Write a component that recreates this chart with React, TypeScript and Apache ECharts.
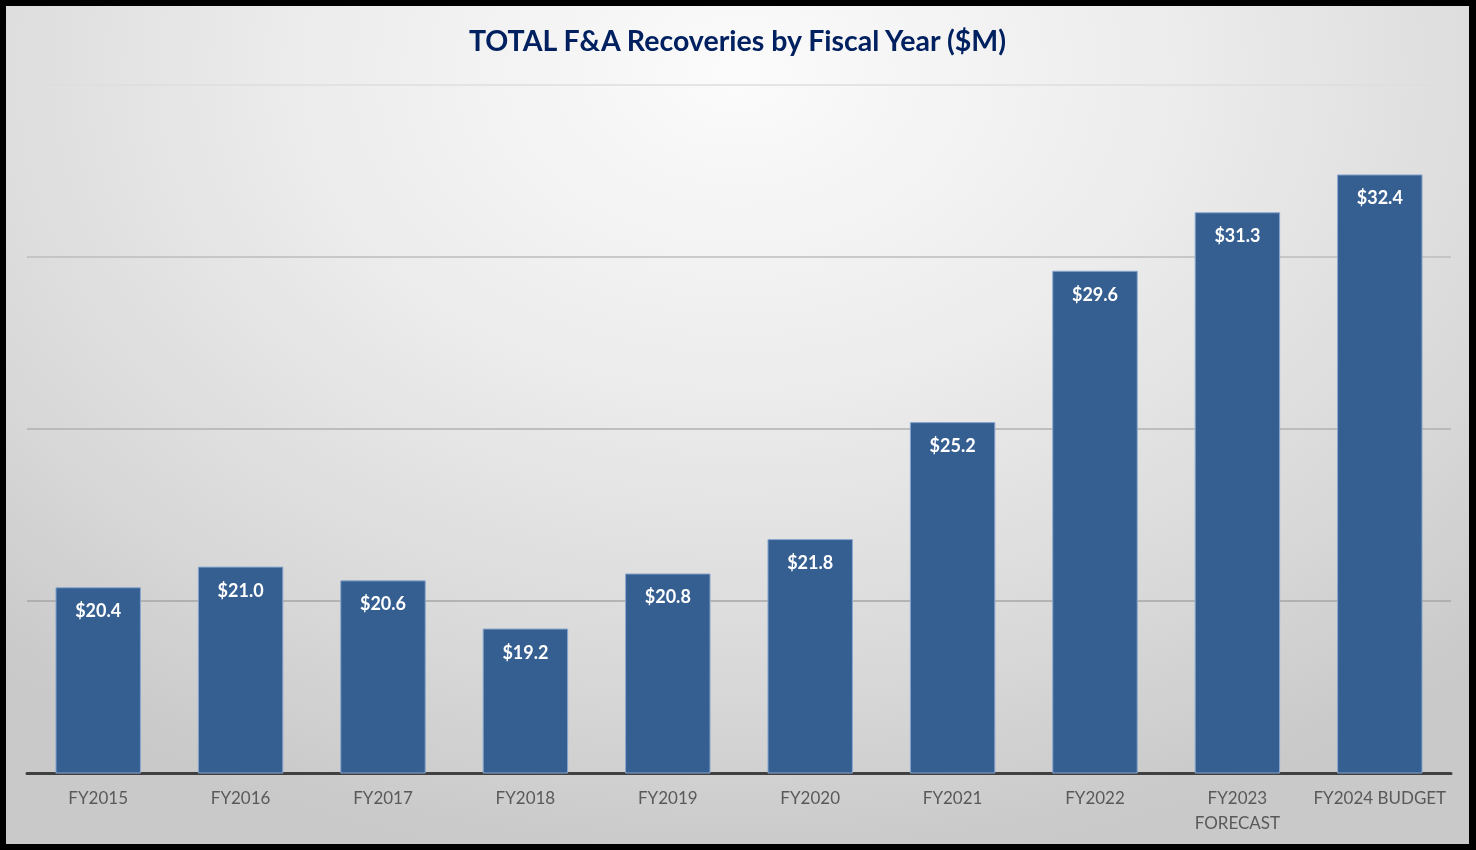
import React, { useEffect, useRef } from "react";
import * as echarts from "echarts";

const categories = [
  "FY2015",
  "FY2016",
  "FY2017",
  "FY2018",
  "FY2019",
  "FY2020",
  "FY2021",
  "FY2022",
  "FY2023\nFORECAST",
  "FY2024 BUDGET",
];
const recoveries = [20.4, 21.0, 20.6, 19.2, 20.8, 21.8, 25.2, 29.6, 31.3, 32.4];
const axisMin = 15;
const axisMax = 35;
const axisStep = 5;

const FONT = "Lato, 'Open Sans', 'Noto Sans', sans-serif";

export default function App() {
  const ref = useRef<HTMLDivElement>(null);

  useEffect(() => {
    document.body.style.margin = "0";
    if (!ref.current) return;
    const chart = echarts.init(ref.current, undefined, { renderer: "svg" });
    chart.setOption({
      animation: false,
      backgroundColor: "transparent",
      title: {
        text: "TOTAL F&A Recoveries by Fiscal Year ($M)",
        left: "center",
        top: 14,
        textStyle: {
          color: "#002060",
          fontFamily: FONT,
          fontWeight: "bold",
          fontSize: 28.5,
        },
      },
      grid: { left: 21, right: 18, top: 79, bottom: 71, containLabel: false },
      xAxis: {
        type: "category",
        data: categories,
        axisLine: { show: true, lineStyle: { color: "#404040", width: 3 } },
        axisTick: { show: false },
        axisLabel: {
          color: "#595959",
          fontFamily: FONT,
          fontSize: 17,
          margin: 12,
          lineHeight: 25,
          interval: 0,
        },
      },
      yAxis: {
        type: "value",
        min: axisMin,
        max: axisMax,
        interval: axisStep,
        axisLabel: { show: false },
        axisLine: { show: false },
        axisTick: { show: false },
        splitLine: {
          show: true,
          lineStyle: {
            color: ["#a0a0a0", "#a6a6a6", "#b0b0b0", "#bdbdbd", "#dedede"],
            width: 1.5,
          },
        },
      },
      series: [
        {
          type: "bar",
          data: recoveries,
          barWidth: "60%",
          itemStyle: {
            color: "#365F91",
            borderColor: "#8aa6cf",
            borderWidth: 1,
          },
          label: {
            show: true,
            position: "insideTop",
            distance: 14,
            color: "#ffffff",
            fontFamily: FONT,
            fontWeight: "bold",
            fontSize: 18,
            formatter: (p: any) => "$" + Number(p.value).toFixed(1),
          },
        },
      ],
    });
    return () => chart.dispose();
  }, []);

  return (
    <div
      style={{
        position: "fixed",
        left: 0,
        top: 0,
        width: 1476,
        height: 850,
        boxSizing: "border-box",
        borderTop: "6px solid #000",
        borderLeft: "6px solid #000",
        borderRight: "7px solid #000",
        borderBottom: "6px solid #000",
        background:
          "radial-gradient(ellipse 75% 95% at 50% 8%, #fbfbfb 0%, #ececec 40%, #d9d9d9 75%, #c9c9c9 100%)",
      }}
    >
      <div ref={ref} style={{ width: 1463, height: 838 }} />
    </div>
  );
}
